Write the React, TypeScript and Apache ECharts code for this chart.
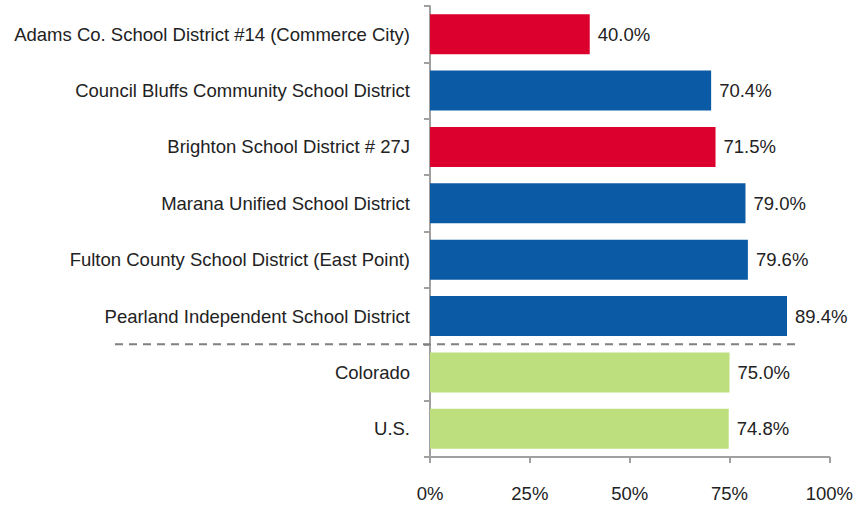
import React, { useEffect, useRef } from "react";
import * as echarts from "echarts";

const categories = [
  "Adams Co. School District #14 (Commerce City)",
  "Council Bluffs Community School District",
  "Brighton School District # 27J",
  "Marana Unified School District",
  "Fulton County School District (East Point)",
  "Pearland Independent School District",
  "Colorado",
  "U.S.",
];
const values = [40.0, 70.4, 71.5, 79.0, 79.6, 89.4, 75.0, 74.8];
const groups = ["red", "blue", "red", "blue", "blue", "blue", "green", "green"];
const xTicks = [0, 25, 50, 75, 100];

const groupColors: Record<string, string> = {
  red: "#DC002E",
  blue: "#0B5AA6",
  green: "#BDDF7E",
};

const FONT = "'Liberation Sans Narrow', 'Arial Narrow', 'Liberation Sans', Arial, sans-serif";

export default function App() {
  const ref = useRef<HTMLDivElement>(null);
  useEffect(() => {
    if (!ref.current) return;
    const chart = echarts.init(ref.current, undefined, { renderer: "svg" });
    chart.setOption({
      animation: false,
      textStyle: { fontFamily: FONT },
      grid: { left: 430, right: 26, top: 6, bottom: 49 },
      xAxis: {
        type: "value",
        min: xTicks[0],
        max: xTicks[xTicks.length - 1],
        interval: 25,
        splitLine: { show: false },
        axisLine: { show: true, lineStyle: { color: "#A0A0A0", width: 2 } },
        axisTick: { show: true, length: 6, lineStyle: { color: "#A0A0A0", width: 2 } },
        axisLabel: {
          margin: 27,
          color: "#222",
          fontSize: 18.5,
          fontFamily: FONT,
          formatter: "{value}%",
        },
      },
      yAxis: {
        type: "category",
        inverse: true,
        data: categories,
        axisLine: { show: true, lineStyle: { color: "#A0A0A0", width: 2 } },
        axisTick: { show: true, length: 6, lineStyle: { color: "#A0A0A0", width: 2 } },
        axisLabel: {
          margin: 20,
          color: "#222",
          fontSize: 18.5,
          fontFamily: FONT,
        },
      },
      series: [
        {
          type: "bar",
          barCategoryGap: "29%",
          data: values.map((v, i) => ({
            value: v,
            itemStyle: { color: groupColors[groups[i]] },
          })),
          label: {
            show: true,
            position: "right",
            distance: 8,
            color: "#222",
            fontSize: 18.5,
            fontFamily: FONT,
            formatter: (p: any) => p.value.toFixed(1) + "%",
          },
        },
      ],
    });
    const y1 = chart.convertToPixel({ yAxisIndex: 0 }, categories[5]) as number;
    const y2 = chart.convertToPixel({ yAxisIndex: 0 }, categories[6]) as number;
    const yb = (y1 + y2) / 2;
    const xEnd = chart.convertToPixel({ xAxisIndex: 0 }, 92) as number;
    chart.setOption({
      graphic: [
        {
          type: "line",
          shape: { x1: 115, y1: yb, x2: xEnd, y2: yb },
          style: { stroke: "#808080", lineWidth: 2, lineDash: [8, 6] },
          z: 10,
        },
      ],
    });
    return () => chart.dispose();
  }, []);
  return (
    <div
      ref={ref}
      style={{ position: "fixed", left: 0, top: 0, width: 856, height: 506, background: "#fff" }}
    />
  );
}
